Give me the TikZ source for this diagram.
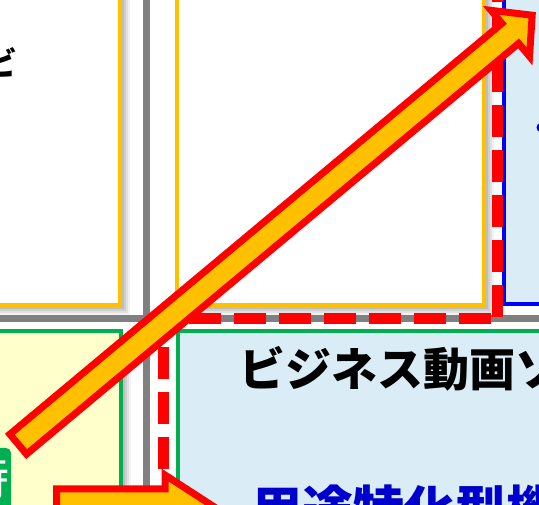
\documentclass[tikz,border=0pt]{standalone}
\usepackage{fontspec}
\newfontfamily\jp{Noto Sans CJK JP}
\definecolor{orgC}{HTML}{FFC000}
\definecolor{redC}{HTML}{FF0000}
\definecolor{grnC}{HTML}{00B050}
\definecolor{bluC}{HTML}{0000FF}
\definecolor{ltblue}{RGB}{218,237,247}
\definecolor{ltyel}{RGB}{255,255,204}
\definecolor{grayC}{HTML}{808080}
\definecolor{txtblue}{HTML}{0000CC}
\newcommand{\softshadow}[4]{%
  \foreach \o/\a in {2/0.09,4/0.09,6/0.08,8/0.07,10/0.05}{%
    \fill[black,opacity=\a] ({#1+\o},{#2+\o}) rectangle ({#3+\o},{#4+\o});
  }}
\tikzset{
  orgbox/.style={draw=orgC, line width=4pt, fill=white},
  grnbox/.style={draw=grnC, line width=4pt},
  grayline/.style={draw=grayC, line width=7pt},
  reddash/.style={draw=redC, line width=10.5pt, dash pattern=on 32pt off 13pt},
  blockarrow/.style={draw=redC, fill=orgC, line width=7pt, line join=miter, miter limit=10},
  jptext/.style={anchor=base west, inner sep=0pt},
}
\begin{document}
\begin{tikzpicture}[x=1pt,y=-1pt]
\useasboundingbox (0,0) rectangle (539,505);
\clip (0,0) rectangle (539,505);
% boxes
\softshadow{-30}{-30}{119.5}{305}
\draw[orgbox] (-30,-30) rectangle (119.5,305);
\softshadow{177}{-30}{483.5}{305}
\draw[orgbox] (177,-30) rectangle (483.5,305);
\draw[draw=bluC, line width=4.3pt, fill=ltblue] (503.8,-30) rectangle (580,304.2);
\softshadow{-30}{331}{120.8}{560}
\draw[grnbox, fill=ltyel] (-30,331) rectangle (120.8,560);
\softshadow{177.5}{331}{600}{560}
\draw[grnbox, fill=ltblue] (177.5,331) rectangle (600,560);
% gray separators
\draw[grayline] (146.5,-10) -- (146.5,520);
\draw[grayline] (-10,318.5) -- (550,318.5);
% red dashed frame
\coordinate (r1) at (497.5,-10);
\coordinate (r2) at (497.5,317);
\coordinate (r3) at (491,318.5);
\coordinate (r4) at (163.5,318.5);
\coordinate (r5) at (163.5,347);
\coordinate (r6) at (163.5,472);
\draw[reddash, dash phase=20pt] (r1) -- (r2);
\draw[reddash] (r3) -- (r4);
\draw[reddash] (r5) -- (r6);
% texts
\node[jptext, font=\jp\bfseries\fontsize{32}{32}\selectfont] (tl) at (-15,76) {ビ};
\node[jptext, font=\jp\bfseries\fontsize{46}{46}\selectfont] (br) at (239,387) {ビジネス動画ソ};
\node[jptext, text=txtblue, font=\jp\bfseries\fontsize{51}{51}\selectfont] (bb) at (251,529) {用途特化型機};
\fill[txtblue] (541,127.5) circle (4.5pt);
% green label
\fill[grnC, rounded corners=5pt] (-60,448) rectangle (11,560);
\node[anchor=base east, inner sep=0pt, text=white, font=\jp\fontsize{48}{48}\selectfont] (gl) at (10,496) {時};
% block arrows
\draw[blockarrow] (9.87,434.22) -- (26.53,454.18) -- (518.63,43.38) -- (529.52,56.43)
  -- (532.18,15.2) -- (491.08,10.37) -- (501.97,23.42) -- cycle;
\draw[blockarrow] (56.5,489) -- (165,489) -- (165,475) -- (219,510) -- (165,545)
  -- (165,531) -- (56.5,531) -- cycle;
\end{tikzpicture}
\end{document}
